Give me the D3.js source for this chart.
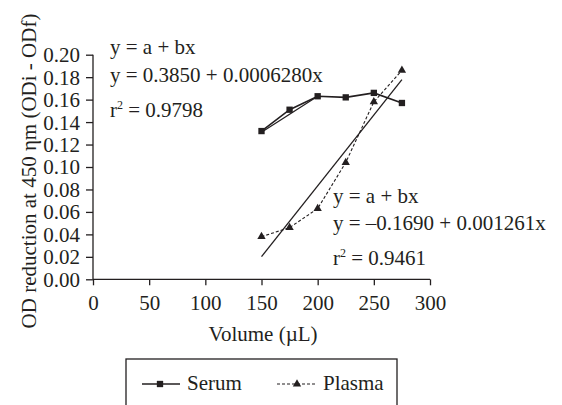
<!DOCTYPE html>
<html><head><meta charset="utf-8">
<script src="https://cdn.jsdelivr.net/npm/d3@7"></script>
<style>body{margin:0;background:#fff}svg{display:block}text{font-family:"Liberation Serif","Times New Roman",serif;fill:#231f20}</style>
</head><body><svg id="c" width="562" height="405"></svg>
<script>
const volumes = [150, 175, 200, 225, 250, 275];
const serum = [0.132, 0.151, 0.163, 0.162, 0.166, 0.157];
const plasma = [0.038, 0.046, 0.063, 0.104, 0.158, 0.186];
const serumFit = [[150, 0.131], [200, 0.163]];
const plasmaFitA = -0.1690, plasmaFitB = 0.001261;
const plasmaFitRange = [150, 275];
const xTicks = [0, 50, 100, 150, 200, 250, 300];
const yTicks = [0, 0.02, 0.04, 0.06, 0.08, 0.10, 0.12, 0.14, 0.16, 0.18, 0.20];
const serumText = ["y = a + bx", "y = 0.3850 + 0.0006280x", "r2 = 0.9798"];
const plasmaText = ["y = a + bx", "y = \u20130.1690 + 0.001261x", "r2 = 0.9461"];
const legendNames = ["Serum", "Plasma"];

const svg = d3.select("#c");
const ink = "#231f20";
const FS = 21;
const x = d3.scaleLinear().domain([0, 300]).range([93, 430]);
const y = d3.scaleLinear().domain([0, 0.20]).range([279.3, 54.7]);

const xa = svg.append("g").attr("transform", `translate(0,${y(0)})`)
  .call(d3.axisBottom(x).tickValues(xTicks).tickSize(6).tickPadding(6).tickFormat(d3.format("d")));
const ya = svg.append("g").attr("transform", `translate(${x(0)},0)`)
  .call(d3.axisLeft(y).tickValues(yTicks).tickSize(7).tickPadding(6).tickFormat(d3.format(".2f")));
[xa, ya].forEach(a => {
  a.selectAll("path,line").attr("stroke", ink).attr("stroke-width", 1.3);
  a.select("path.domain").attr("d", a === xa ? `M${x(0)},0H${x(300)}` : `M0,${y(0)}V${y(0.2)}`);
  a.selectAll("text").attr("font-size", FS).attr("fill", ink).style("font-family", "Liberation Serif");
});
xa.selectAll("text").attr("y", 30.5).attr("dy", 0);
ya.selectAll("text").attr("dy", "0.33em");

svg.append("text").attr("x", 263).attr("y", 341).attr("text-anchor", "middle")
  .attr("font-size", FS).text("Volume (\u00b5L)");
svg.append("text").attr("transform", `translate(36,171) rotate(-90)`)
  .attr("text-anchor", "middle").attr("font-size", FS).text("OD reduction at 450 \u03b7m (ODi - ODf)");

const line = d3.line().x(d => x(d[0])).y(d => y(d[1]));
// trend lines
svg.append("path").attr("d", line(serumFit)).attr("fill", "none").attr("stroke", ink).attr("stroke-width", 1.3);
svg.append("path").attr("d", line(plasmaFitRange.map(v => [v, plasmaFitA + plasmaFitB * v])))
  .attr("fill", "none").attr("stroke", ink).attr("stroke-width", 1.3);
// series
const sData = volumes.map((v, i) => [v, serum[i]]);
const pData = volumes.map((v, i) => [v, plasma[i]]);
svg.append("path").attr("d", line(sData)).attr("fill", "none").attr("stroke", ink).attr("stroke-width", 1.6);
svg.append("path").attr("d", line(pData)).attr("fill", "none").attr("stroke", ink).attr("stroke-width", 1.1).attr("stroke-dasharray", "3,2");
const sq = d3.symbol().type(d3.symbolSquare).size(40);
const tri = d3.symbol().type(d3.symbolTriangle).size(30);
svg.selectAll(".s").data(sData).enter().append("path").attr("d", sq)
  .attr("transform", d => `translate(${x(d[0])},${y(d[1])})`).attr("fill", ink);
svg.selectAll(".p").data(pData).enter().append("path").attr("d", tri)
  .attr("transform", d => `translate(${x(d[0])},${y(d[1])})`).attr("fill", ink);

function eqBlock(lines, x0, ys) {
  lines.forEach((t, i) => {
    const tx = svg.append("text").attr("x", x0).attr("y", ys[i]).attr("font-size", FS);
    if (t.startsWith("r2")) {
      tx.append("tspan").text("r");
      tx.append("tspan").attr("font-size", 12).attr("dy", -8).text("2");
      tx.append("tspan").attr("dy", 8).text(t.slice(2));
    } else tx.text(t);
  });
}
eqBlock(serumText, 110, [54, 82, 117]);
eqBlock(plasmaText, 333, [203, 230, 265]);

// legend
svg.append("rect").attr("x", 126).attr("y", 359).attr("width", 271).attr("height", 60)
  .attr("fill", "none").attr("stroke", ink).attr("stroke-width", 1.3);
svg.append("line").attr("x1", 142).attr("x2", 180).attr("y1", 384).attr("y2", 384).attr("stroke", ink).attr("stroke-width", 1.6);
svg.append("path").attr("d", sq).attr("transform", "translate(160,384)").attr("fill", ink);
svg.append("text").attr("x", 187).attr("y", 390).attr("font-size", FS).text(legendNames[0]);
svg.append("line").attr("x1", 277).attr("x2", 317).attr("y1", 384).attr("y2", 384).attr("stroke", ink).attr("stroke-width", 1.1).attr("stroke-dasharray", "3,2");
svg.append("path").attr("d", tri).attr("transform", "translate(297,384)").attr("fill", ink);
svg.append("text").attr("x", 323).attr("y", 390).attr("font-size", FS).text(legendNames[1]);
</script></body></html>
